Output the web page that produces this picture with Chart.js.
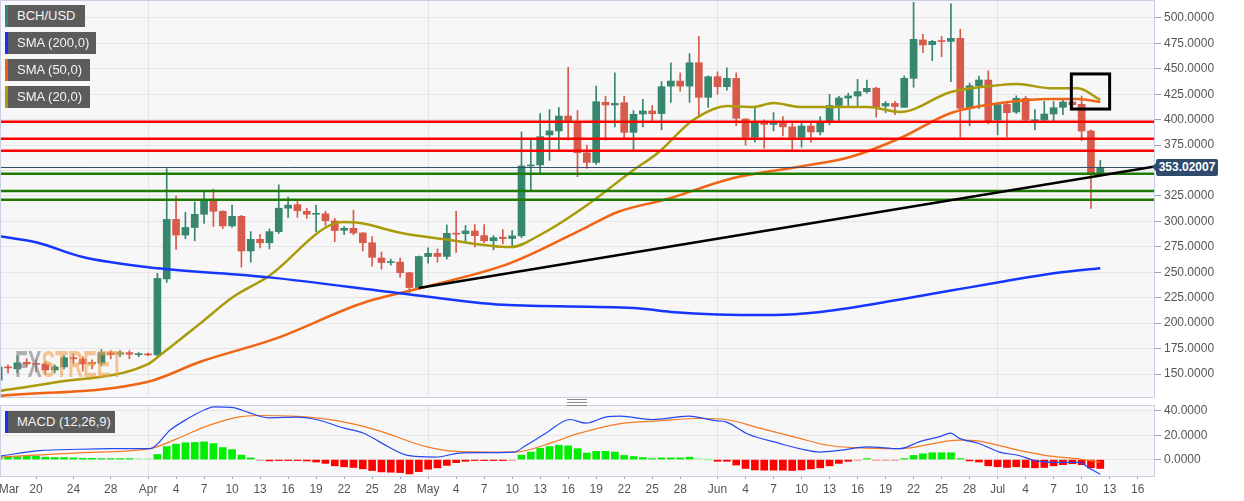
<!DOCTYPE html>
<html>
<head>
<meta charset="utf-8">
<script src="https://cdn.jsdelivr.net/npm/chart.js@4.4.1/dist/chart.umd.min.js"></script>
<style>
  body { margin: 0; background: #fff; font-family: "Liberation Sans", Arial, sans-serif; }
  #wrap { position: relative; width: 1244px; height: 501px; overflow: hidden; }
  #mainBox { position: absolute; left: 0; top: 0; width: 1244px; height: 398px; }
  #macdBox { position: absolute; left: 0; top: 398px; width: 1244px; height: 103px; }
  .tag { position: absolute; left: 5px; height: 22px; line-height: 22px; background: #5c5c5c; color: #f4f4f4;
         font-size: 13px; padding-left: 9px; box-sizing: border-box; border-left: 3px solid; }
  #price { position: absolute; left: 1156px; width: 62px; height: 17px; line-height: 17px; background: #2e4a6c;
           color: #fff; font-weight: bold; font-size: 12px; text-align: center; border-radius: 2px; }
  #price:before { content: ""; position: absolute; left: -4px; top: 4px; border-top: 4px solid transparent;
                  border-bottom: 4px solid transparent; border-right: 4px solid #2e4a6c; }
  #wm { position: absolute; left: 15px; top: 346px; font-size: 37px; line-height: 37px; font-weight: bold;
        font-family: "Liberation Sans", Arial, sans-serif; white-space: nowrap;
        transform: scaleX(0.56); transform-origin: 0 0; pointer-events: none; }
  #grip { position: absolute; left: 567px; top: 399px; width: 20px; height: 5px; border-top: 1px solid #888; border-bottom: 1px solid #888; }
  #grip:after { content: ""; position: absolute; left: 0; right: 0; top: 2px; border-top: 1px solid #888; }
</style>
</head>
<body>
<div id="wrap">
  <div id="mainBox"><canvas id="mainChart" width="1244" height="398"></canvas></div>
  <div id="macdBox"><canvas id="macdChart" width="1244" height="103"></canvas></div>
  <div id="wm"><span style="color:rgba(125,125,125,0.6)">FX</span><span style="color:rgba(242,160,80,0.6)">STREET</span></div>
  <div class="tag" style="top:5px;width:80px;border-color:#2f8a70">BCH/USD</div>
  <div class="tag" style="top:32px;width:91px;border-color:#1133ff">SMA (200,0)</div>
  <div class="tag" style="top:59px;width:85px;border-color:#f06010">SMA (50,0)</div>
  <div class="tag" style="top:86px;width:85px;border-color:#a89a08">SMA (20,0)</div>
  <div class="tag" style="top:411px;width:110px;border-color:#1133ff">MACD (12,26,9)</div>
  <div id="grip"></div>
  <div id="price">353.02007</div>
</div>
<script>
// day 0 = Mar 16 2019, one candle per day up to Jul 12 (day 118)
const opens = [144,157,155,161.5,160.5,160,154,157,166,164.5,
  161.5,160.5,171,169.5,171,169,169.5,168.8,243.5,302,
  286.6,294,307,321.5,310,295.6,305,271,282.4,279,
  290,313,316.5,310,307,307.5,300.5,291.3,293.2,288.7,
  279,264,259.6,260,249.6,235,265.5,268.6,265.6,288.3,
  288,290.6,286,281,284.5,283.2,285.8,354.5,355.5,385,
  389,403.6,398,367.5,358,417.1,414.5,416.7,387.6,405.6,
  408.6,406,433,438,433,456,422,442.3,432.5,440.7,
  400.7,382.7,397.4,395.4,397.4,393,382.7,393.8,388,397,
  414,421.3,423.3,427.6,431,413.5,416,412.2,440.7,478.4,
  473.8,477.5,477,480,411.2,433.4,439,399.7,415,407.6,
  421,399,399.7,405.6,412.2,417.4,415.1,388.9,347.3];
const closes = [157,156,161,160,159.5,154,157,166,165,160,
  160,171,169,171,169.5,169.5,168.8,244,302,286.6,
  294,307,321.5,310,295.6,305,271,282.4,279,290,
  313,316,310.5,307,307.8,300.7,291,293.2,288.7,279,
  264.7,259.6,260.4,249.6,235,265.5,268.6,265.6,288.3,287.5,
  290.6,286,281,284,283.2,285.8,354.5,355.5,383.3,389,
  403.6,399,367.5,358,417.7,414.5,416,387.6,405.3,408.6,
  405.9,432.5,438,433,456,422,442.3,432.5,440.7,401.4,
  382.7,397.4,395.4,396.5,393,382.7,393.8,388,397,414,
  421.3,423.3,427.6,430.9,412.8,416,413,440.7,479,473.5,
  477,476.8,480,411.2,433.4,439,399,414.8,406.9,421,
  399.7,399.5,405.6,411.8,417.4,414.8,388.9,347.3,353.02];
const highs = [160,159,168,165,164,162,159,168,170,167,
  164,174,173,173,173,171,170.5,249,352,325,
  309,319,330,331.8,310.5,316,306,290,287,292.6,
  336,324,320,313,316,310,303,295,311,289,
  285,270,263,264,250,266,274,273,296.5,310,
  296,297,297,286,292,291,388,381,406,410,
  412,451.5,409,375,433,423,446,423,409,420,
  414,437.5,456,446,465,482,443,447,451,446,
  401,413,400,407,403,397,398,397,403,425,
  423,426,439.7,439,432,418,418,443,515.4,484,
  478,482,513.8,489,436,443,448,415,417,423.5,
  423,410,418,418,420,420,423.3,390,360];
const lows = [140,151,151,157,152,150,151,155,160,153,
  155,158,165,167,165,167,168,166,240,272.6,
  283,281,298,295,293,294,255,260,274,273,
  288,304,304,303,290,296,280,287,287,271,
  256,253,257,245,230,233,259,260,263,269.6,
  280,275,279,272,278,274,284,330,348,360,
  370,380,344,352,356,380,393,381,370,393,
  399,390,417,428,417,402,412,425,429,394,
  375,378,372,389,384,371,373,378,385,395,
  397,414,413,426,402.5,407,405,412,431.9,466,
  458,462,437.4,382.7,394,411,396,385,383,406,
  399,390,399,399,405,413,379.4,312.9,346];

// moving averages, read at the points where the curves bend
const sma200Days = [0,4,9,16,29,43,54,68,72,77,83,88,97,102,107,113,118];
const sma200 = [285.6,279.5,265,255,245,229.5,218,215,211,208.5,208,211,224,232,240,249,254];
const sma50Days = [0,16,21.6,29.8,39,45.2,54.8,63,66.3,71.6,78.7,85.9,91.2,96.6,102,107.3,112.7,115.6,118];
const sma50 = [128.4,142.4,162,185.3,219.8,234.5,259,294.5,309.3,322,342.7,354,363.3,382,406.6,416.4,420.4,420.4,417.4];
const sma20Days = [0,5.5,16,17.3,21.6,25.1,28.8,36.9,38.7,43,47.6,54.8,58.3,63,68,70.6,74.4,78.1,80.8,83,85.9,93.1,96.6,102,107.3,109.1,112.7,115.6,118];
const sma20 = [133.2,141,159.8,168.6,199.8,225.7,245.4,299.4,298.4,288.9,282.7,274.8,288.4,316,350.5,367.3,399.7,413.5,412.5,416.4,412.5,412.5,407.6,427.2,434,435,431,431,419.4];

const resistance = [398, 381.3, 369.5];
const support = [346.9, 330, 321.3];
const lastPrice = 353.02007;
const trendDays = [45, 123.86];
const trendPrices = [234.5, 354];

const macdDays = [0,4.4,8.6,12,16.2,18.4,20.1,22.2,23,25.1,26.8,28.9,31.9,34,37,39.1,40.8,43.8,46.7,49.7,55.2,56.5,58.6,61.2,62.9,65,66.6,70,73.9,76.8,77.9,80.3,83.7,85.8,88,90.1,93.1,96.5,98.6,100.8,102,102.9,105,107.2,109.3,111,113.6,115.7,117,118];
const macd = [2.8,7.3,8.5,9,9,24.5,33,41.4,43.4,42.8,38.6,34.4,35,33,25.9,21.7,14.6,3.4,2,5.6,6.2,11.8,21.7,33,30,35,35.8,33,35.8,32,31,20.8,13.2,9,6.2,7.6,10.4,9,14.6,18.9,21.7,17.5,13.2,6.2,3.4,-0.8,-2.3,-2.3,-7.9,-12.1];
const signalDays = [0,8.6,16.2,19.2,22.2,25.6,27.7,31.9,36.2,40.4,45.9,48.9,55.2,59.5,61.6,66.6,70.9,75.1,77.9,81.5,85.8,88.8,92.2,96.5,102.9,105,109.3,112.7,115.7,118];
const signal = [2,5.6,9,17.5,27.3,35,36.3,35.5,32,24.5,10.4,6.8,6.2,14.6,20.3,29.6,32,33.8,33,25.9,17.5,11.8,9.6,9,16,15.2,7.6,2.8,0.6,-2.3];
const hist = [2.3,2.3,2.3,2.8,2.8,2,1.7,1.7,1.4,1.1,1.1,0.8,0.8,0.8,0.6,0.3,0.3,
  4.2,10.7,12.7,13.8,14.1,14.6,13.2,9.9,8.2,3.7,1.4,
  -0.3,-1.1,-0.6,-0.6,-0.8,-1.1,-2,-3.1,-5.1,-5.9,-6.5,-7.6,-9,-10.1,-10.4,-10.7,-11.8,-9.9,-7.9,-6.8,-4.8,-2.5,-1.4,-0.8,-0.6,-0.6,-0.6,-0.3,
  3.7,6.2,9.3,10.7,11.8,11.3,9,5.4,6.8,6.8,6.2,
  3.4,2.5,1.7,0.8,1.4,1.4,1.4,2,0.3,0,
  -1.4,-1.4,-4.5,-7.3,-8.5,-8.7,-8.7,-8.7,-9,-8.5,-7.6,-6.8,-5.1,-3.1,-1.4,-0.3,
  0.6,-0.2,-0.3,-0.3,
  0.8,3.4,4.8,5.6,5.6,5.6,0.8,
  -1.1,-2,-5.1,-5.9,-6.5,-5.9,-6.5,-6.8,-6.5,-5.1,-4.2,-3.4,-4.2,-6.8,-7.3];

const xTickDays = [0,4,8,12,16,19,22,25,28,31,34,37,40,43,46,49,52,55,58,61,64,67,70,73,77,80,83,86,89,92,95,98,101,104,107,110,113,116,119,122,123.86];
const xTickLabels = ['Mar','20','24','28','Apr','4','7','10','13','16','19','22','25','28','May','4','7','10','13','16','19','22','25','28','Jun','4','7','10','13','16','19','22','25','28','Jul','4','7','10','13','16',''];
const monthDays = [16, 46, 77, 107];
const priceTicks = [150,175,200,225,250,275,300,325,350,375,400,425,450,475,500];
const macdTicks = [0, 20, 40];

const xMin = 0.14, xMax = 123.86;
const upColor = '#37866f', downColor = '#d85a4b';
const tickFont = { family: '"Liberation Sans", Arial, sans-serif', size: 12 };

const pts = (xs, ys) => xs.map((x, i) => ({ x: x, y: ys[i] }));
const level = v => [{ x: xMin, y: v }, { x: xMax, y: v }];
const candleColor = i => closes[i] >= opens[i] ? upColor : downColor;

const panel = {
  id: 'panel',
  beforeDraw(chart) {
    const { ctx, chartArea: a } = chart;
    ctx.save();
    ctx.fillStyle = '#f7f7f7';
    ctx.fillRect(a.left, a.top, a.right - a.left, a.bottom - a.top);
    ctx.restore();
  },
  afterDraw(chart) {
    const { ctx, chartArea: a } = chart;
    ctx.save();
    ctx.strokeStyle = '#c9cfe0';
    ctx.lineWidth = 1;
    ctx.strokeRect(a.left + 0.5, a.top - 0.5, a.right - a.left - 1, a.bottom - a.top + 1);
    ctx.restore();
  }
};

// highlight box around the SMA crossover
const crossBox = {
  id: 'crossBox',
  afterDatasetsDraw(chart) {
    const { ctx, scales } = chart;
    const x1 = scales.x.getPixelForValue(114.9), x2 = scales.x.getPixelForValue(119);
    const y1 = scales.y.getPixelForValue(445), y2 = scales.y.getPixelForValue(410.5);
    ctx.save();
    ctx.strokeStyle = '#000';
    ctx.lineWidth = 3;
    ctx.strokeRect(x1, y1, x2 - x1, y2 - y1);
    ctx.restore();
  }
};

const xAxis = (showLabels) => ({
  type: 'linear', min: xMin, max: xMax, offset: false,
  afterBuildTicks: s => { s.ticks = xTickDays.map(v => ({ value: v })); },
  afterFit: s => { s.paddingLeft = 0; s.paddingRight = 0; s.height = showLabels ? 25 : 1; },
  grid: {
    offset: false,
    color: c => (c.tick && monthDays.includes(c.tick.value)) ? '#e4e4e4' : 'rgba(0,0,0,0)',
    drawTicks: showLabels,
    tickLength: 3,
    tickColor: c => (c.tick && c.tick.value < 123) ? '#9aa3b5' : 'rgba(0,0,0,0)'
  },
  border: { display: false },
  ticks: {
    display: showLabels, autoSkip: false, maxRotation: 0, align: 'inner', padding: 3,
    color: '#555', font: tickFont,
    callback: (v, i) => xTickLabels[i]
  }
});

const yAxis = (lo, hi, values) => ({
  position: 'right', min: lo, max: hi,
  afterBuildTicks: s => { s.ticks = values.map(v => ({ value: v })); },
  afterFit: s => { s.width = 89; s.paddingTop = 0; s.paddingBottom = 0; },
  grid: { color: '#e6e6e6', tickLength: 6, tickColor: '#9aa3b5' },
  border: { display: false },
  ticks: { color: '#555', font: tickFont, padding: 3, callback: v => v.toFixed(4) }
});

const lineDs = (data, color, width, order) => ({
  type: 'line', data: data, borderColor: color, borderWidth: width, pointRadius: 0,
  cubicInterpolationMode: 'monotone', order: order
});

const mainChart = new Chart(document.getElementById('mainChart'), {
  type: 'bar',
  data: {
    datasets: [
      { label: 'wick', data: opens.map((o, i) => ({ x: i, y: [lows[i], highs[i]] })),
        backgroundColor: opens.map((o, i) => candleColor(i)), barThickness: 1, grouped: false, order: 12 },
      { label: 'body', data: opens.map((o, i) => ({ x: i, y: [o, closes[i]] })),
        backgroundColor: opens.map((o, i) => candleColor(i)), barThickness: 7, minBarLength: 1, grouped: false, order: 11 },
      lineDs(pts(sma200Days, sma200), '#1436ff', 2.5, 5),
      lineDs(pts(sma50Days, sma50), '#f06414', 2.5, 5),
      lineDs(pts(sma20Days, sma20), '#aa9b0a', 2.5, 5),
      ...resistance.map(v => lineDs(level(v), '#ff0000', 2.5, 4)),
      ...support.map(v => lineDs(level(v), '#1f7a00', 2.5, 4)),
      lineDs(level(lastPrice), '#34496e', 1, 4),
      lineDs(pts(trendDays, trendPrices), '#000000', 2.5, 3)
    ]
  },
  options: {
    responsive: false, animation: false, events: [],
    layout: { padding: { top: 1, left: 0, right: 0, bottom: 0 } },
    plugins: { legend: { display: false }, tooltip: { enabled: false } },
    scales: { x: xAxis(false), y: yAxis(127.4, 516.7, priceTicks) }
  },
  plugins: [panel, crossBox]
});

const priceEl = document.getElementById('price');
priceEl.style.top = (mainChart.scales.y.getPixelForValue(lastPrice) - 8) + 'px';

new Chart(document.getElementById('macdChart'), {
  type: 'bar',
  data: {
    datasets: [
      { label: 'hist', data: hist.map((v, i) => ({ x: i, y: v })),
        backgroundColor: hist.map(v => Math.abs(v) < 0.5 ? (v >= 0 ? '#9ef59e' : '#ff9a9a') : (v >= 0 ? '#00ee00' : '#ff0000')),
        barThickness: 7, minBarLength: 1, grouped: false, order: 10 },
      { type: 'line', data: pts(signalDays, signal), borderColor: '#f47a22', borderWidth: 1.2, pointRadius: 0, cubicInterpolationMode: 'monotone', order: 2 },
      { type: 'line', data: pts(macdDays, macd), borderColor: '#2448f0', borderWidth: 1.2, pointRadius: 0, cubicInterpolationMode: 'monotone', order: 1 }
    ]
  },
  options: {
    responsive: false, animation: false, events: [],
    layout: { padding: { top: 8, left: 0, right: 0, bottom: 0 } },
    plugins: { legend: { display: false }, tooltip: { enabled: false } },
    scales: { x: xAxis(true), y: yAxis(-13.5, 44.1, macdTicks) }
  },
  plugins: [panel]
});
</script>
</body>
</html>
